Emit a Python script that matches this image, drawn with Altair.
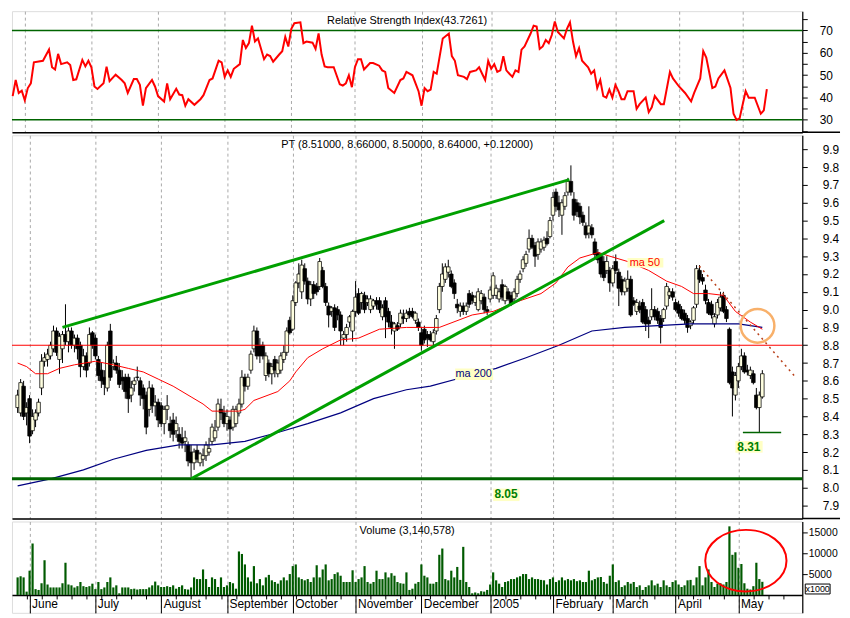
import altair as alt
import pandas as pd

# ------------------------------------------------------------------ data
month_labels = ["June", "July", "August", "September", "October", "November",
                "December", "2005", "February", "March", "April", "May"]

o = [8.45,8.42,8.57,8.42,8.50,8.32,8.38,8.42,8.56,8.71,
     8.72,8.74,8.78,8.88,8.72,8.78,8.86,8.82,8.88,8.80,
     8.84,8.80,8.68,8.74,8.70,8.87,8.84,8.72,8.66,8.62,
     8.56,8.88,8.68,8.70,8.66,8.62,8.62,8.62,8.52,8.58,
     8.62,8.60,8.56,8.52,8.44,8.56,8.46,8.48,8.46,8.36,
     8.44,8.36,8.38,8.32,8.30,8.28,8.26,8.24,8.20,8.14,
     8.21,8.14,8.16,8.18,8.20,8.26,8.28,8.34,8.44,8.42,
     8.36,8.38,8.34,8.36,8.42,8.47,8.62,8.57,8.66,8.78,
     8.88,8.80,8.80,8.63,8.70,8.64,8.72,8.64,8.66,8.72,
     8.76,8.94,8.89,9.04,9.15,9.10,9.23,9.16,9.06,9.14,
     9.13,9.13,9.22,9.13,9.02,8.99,9.01,9.00,8.97,8.84,
     8.86,8.93,8.88,8.99,9.09,9.04,9.08,9.04,9.00,9.02,
     9.05,9.05,8.96,9.05,8.99,8.93,8.88,8.91,8.92,8.96,
     8.95,8.99,8.99,8.94,8.93,8.87,8.89,8.86,8.86,8.82,
     8.88,9.00,9.13,9.17,9.21,9.20,9.15,9.03,8.99,9.02,
     8.99,9.09,9.08,9.04,9.00,9.05,9.07,9.00,9.06,9.08,
     9.08,9.06,9.14,9.05,9.10,9.08,9.06,9.09,9.17,9.23,
     9.26,9.34,9.40,9.36,9.31,9.34,9.35,9.40,9.41,9.53,
     9.66,9.60,9.53,9.58,9.66,9.72,9.62,9.60,9.58,9.53,
     9.47,9.43,9.46,9.38,9.32,9.30,9.27,9.22,9.22,9.15,
     9.27,9.21,9.17,9.10,9.12,9.17,9.05,8.99,9.02,9.04,
     9.00,8.94,8.96,9.00,8.99,8.95,8.95,9.02,9.08,9.10,
     9.04,9.03,9.00,8.98,8.95,8.91,8.94,9.03,9.22,9.18,
     9.11,9.04,9.03,8.92,8.97,9.01,9.08,9.00,8.89,8.65,
     8.52,8.60,8.68,8.74,8.66,8.63,8.64,8.52,8.45,8.51]

h = [8.55,8.61,8.60,8.48,8.52,8.44,8.44,8.50,8.75,8.76,
     8.78,8.82,8.91,8.90,8.87,8.88,9.03,8.90,8.90,8.86,
     8.86,8.82,8.78,8.76,8.90,8.88,8.86,8.74,8.70,8.66,
     8.82,8.92,8.72,8.74,8.70,8.66,8.64,8.64,8.60,8.62,
     8.68,8.62,8.58,8.54,8.60,8.58,8.52,8.50,8.48,8.46,
     8.52,8.40,8.42,8.40,8.34,8.34,8.32,8.26,8.24,8.22,
     8.24,8.20,8.22,8.26,8.28,8.36,8.38,8.50,8.50,8.46,
     8.44,8.40,8.46,8.46,8.50,8.66,8.64,8.64,8.77,8.91,
     8.90,8.84,8.82,8.76,8.72,8.70,8.74,8.72,8.76,8.80,
     8.90,8.96,9.08,9.16,9.26,9.28,9.26,9.18,9.16,9.16,
     9.15,9.29,9.24,9.15,9.04,9.02,9.03,9.02,8.99,8.88,
     8.92,8.97,9.00,9.16,9.12,9.10,9.10,9.08,9.08,9.06,
     9.07,9.07,9.03,9.07,9.01,8.97,8.93,8.93,9.00,9.00,
     9.00,9.01,9.01,8.99,8.95,8.90,8.91,8.88,8.88,8.89,
     8.97,9.15,9.26,9.26,9.28,9.22,9.17,9.06,9.04,9.04,
     9.04,9.11,9.10,9.08,9.12,9.11,9.09,9.02,9.13,9.21,
     9.14,9.12,9.17,9.14,9.12,9.10,9.12,9.19,9.22,9.30,
     9.33,9.45,9.42,9.38,9.40,9.40,9.41,9.44,9.52,9.66,
     9.68,9.64,9.62,9.66,9.74,9.81,9.66,9.62,9.60,9.55,
     9.49,9.58,9.48,9.40,9.34,9.32,9.30,9.30,9.24,9.25,
     9.31,9.23,9.19,9.18,9.22,9.19,9.07,9.06,9.05,9.06,
     9.02,8.96,9.12,9.02,9.01,8.97,9.01,9.15,9.12,9.12,
     9.06,9.05,9.02,9.00,8.97,8.94,9.02,9.25,9.25,9.20,
     9.14,9.06,9.05,8.98,9.06,9.10,9.10,9.02,8.90,8.68,
     8.65,8.70,8.78,8.76,8.69,8.68,8.66,8.56,8.54,8.66]

l = [8.42,8.40,8.38,8.35,8.25,8.30,8.34,8.40,8.52,8.68,
     8.68,8.72,8.76,8.74,8.64,8.70,8.80,8.76,8.78,8.76,
     8.72,8.62,8.66,8.62,8.68,8.78,8.72,8.60,8.56,8.52,
     8.54,8.60,8.66,8.64,8.56,8.55,8.50,8.42,8.48,8.54,
     8.60,8.46,8.44,8.30,8.40,8.42,8.40,8.34,8.34,8.30,
     8.38,8.28,8.26,8.28,8.22,8.22,8.20,8.12,8.06,8.10,
     8.14,8.12,8.12,8.15,8.18,8.24,8.26,8.32,8.38,8.34,
     8.32,8.24,8.32,8.34,8.40,8.45,8.54,8.55,8.64,8.76,
     8.72,8.70,8.72,8.60,8.62,8.58,8.62,8.62,8.64,8.70,
     8.74,8.86,8.88,9.02,9.12,9.06,9.14,9.03,9.02,9.06,
     9.08,9.11,9.12,9.02,8.90,8.96,8.88,8.94,8.80,8.80,
     8.82,8.90,8.82,8.96,8.97,9.00,8.98,9.02,8.98,9.00,
     9.00,8.98,8.94,8.84,8.90,8.86,8.78,8.88,8.90,8.92,
     8.93,8.95,8.95,8.92,8.88,8.77,8.81,8.79,8.82,8.80,
     8.86,8.98,9.10,9.15,9.18,9.12,9.06,8.98,8.96,8.97,
     8.97,9.01,9.03,9.02,8.99,9.03,8.98,8.97,9.04,9.06,
     9.06,9.04,9.05,9.03,9.05,9.02,9.04,9.07,9.15,9.21,
     9.24,9.32,9.34,9.24,9.28,9.32,9.33,9.36,9.40,9.50,
     9.55,9.52,9.42,9.56,9.64,9.64,9.50,9.52,9.48,9.47,
     9.40,9.40,9.40,9.29,9.26,9.18,9.16,9.20,9.10,9.13,
     9.20,9.02,9.08,9.08,9.10,8.96,9.02,8.97,8.98,8.92,
     8.88,8.84,8.94,8.94,8.92,8.81,8.93,9.00,9.06,9.05,
     8.99,8.96,8.94,8.92,8.87,8.89,8.92,9.01,9.15,9.14,
     9.03,8.97,8.95,8.90,8.95,8.99,8.98,8.93,8.58,8.40,
     8.49,8.56,8.66,8.64,8.63,8.61,8.58,8.44,8.31,8.50]

c = [8.52,8.59,8.40,8.45,8.29,8.40,8.42,8.48,8.71,8.73,
     8.75,8.80,8.88,8.76,8.85,8.86,8.82,8.88,8.80,8.84,
     8.78,8.68,8.74,8.66,8.86,8.80,8.74,8.63,8.60,8.58,
     8.80,8.62,8.70,8.66,8.58,8.60,8.54,8.50,8.56,8.60,
     8.62,8.52,8.50,8.34,8.56,8.46,8.48,8.38,8.36,8.44,
     8.46,8.32,8.30,8.36,8.26,8.25,8.28,8.15,8.14,8.20,
     8.16,8.19,8.18,8.24,8.22,8.34,8.32,8.47,8.42,8.36,
     8.40,8.33,8.44,8.44,8.47,8.62,8.57,8.62,8.75,8.88,
     8.74,8.74,8.74,8.74,8.64,8.68,8.66,8.70,8.74,8.76,
     8.88,8.87,9.05,9.15,9.20,9.25,9.16,9.06,9.14,9.09,
     9.10,9.27,9.13,9.04,8.97,9.01,8.90,8.97,8.88,8.86,
     8.90,8.96,8.99,9.07,8.98,9.09,9.00,9.06,9.06,9.05,
     9.03,9.00,9.01,8.96,8.93,8.90,8.92,8.89,8.98,8.95,
     8.98,8.97,8.96,8.98,8.90,8.80,8.83,8.84,8.83,8.87,
     8.95,9.13,9.20,9.24,9.24,9.13,9.09,9.01,9.02,8.99,
     9.02,9.03,9.05,9.07,9.10,9.09,9.00,8.99,9.11,9.19,
     9.12,9.10,9.07,9.13,9.06,9.03,9.10,9.17,9.20,9.28,
     9.31,9.40,9.35,9.30,9.38,9.38,9.39,9.37,9.50,9.63,
     9.58,9.56,9.60,9.64,9.72,9.66,9.53,9.55,9.52,9.49,
     9.42,9.47,9.42,9.31,9.28,9.20,9.18,9.27,9.15,9.23,
     9.22,9.12,9.10,9.16,9.17,8.97,9.03,9.04,9.00,8.93,
     8.92,8.92,9.00,8.96,8.94,8.90,9.00,9.13,9.10,9.07,
     9.00,8.98,8.95,8.94,8.90,8.93,9.01,9.23,9.17,9.16,
     9.05,8.98,8.97,8.96,9.04,9.07,8.99,8.95,8.59,8.56,
     8.63,8.68,8.74,8.65,8.65,8.66,8.59,8.45,8.52,8.64]

# volume in thousands of shares (axis unit "x1000")
vol = [4200,4500,4200,800,5800,12300,1400,1200,2800,8300,
       2500,1800,1800,1800,1800,2800,7700,2500,2300,1800,
       2100,3100,2100,1900,2100,2700,1400,3100,1400,1800,
       3100,4200,1800,2300,400,1800,1800,1800,1400,1500,
       1300,1400,1400,1400,1800,2300,3200,2300,1900,1900,
       2100,1900,2300,1500,1900,2300,1400,1300,1800,4200,
       3800,3800,6100,3800,1900,4200,3800,1900,4200,1900,
       2300,3100,2800,1500,10400,9800,7300,4200,3200,6900,
       2800,3800,2300,4200,4800,3500,3100,2700,3500,4200,
       3500,5000,6900,7300,4200,3800,3500,3800,3100,4200,
       7100,4200,6100,7300,3500,3800,5000,5400,4600,3100,
       3100,3100,5900,3100,3800,4200,6900,3100,2700,3100,
       5800,3800,3800,5400,4200,5200,4600,3100,2800,2700,
       5400,1200,1500,2700,3100,7300,4600,4200,2700,2700,
       3100,9600,11100,3800,3500,5800,4200,6700,3600,11500,
       3100,1900,400,600,400,900,800,1200,2500,5400,
       3500,2700,1900,3100,3300,3800,3800,4200,4500,5000,
       5000,3800,4200,3800,3800,3600,3500,2500,3800,4200,
       3100,3500,4200,3500,3800,3500,3800,3300,3500,3100,
       3100,5800,3500,3800,4200,4300,3100,2700,4600,7300,
       3100,3500,1900,2300,3100,2700,3100,1900,2300,1200,
       1900,2300,3500,2300,2700,1900,3500,2300,1900,3100,
       3500,2500,1900,2300,3500,3600,2300,4200,6900,2300,
       4200,6100,3100,1900,2700,2800,2500,3100,16400,9600,
       10200,6500,7400,2800,1500,1300,2100,7700,3800,3141]

rsi_i = [0,1,2,3,4,5,6,7,10,12,13,14,15,16,18,19,20,21,23,24,25,26,27,28,30,31,32,34,
         36,37,38,40,41,42,43,44,46,47,48,50,51,52,54,55,56,57,58,60,62,63,65,66,68,69,
         70,71,72,73,75,76,77,78,79,80,81,83,84,85,86,88,89,90,91,92,93,95,96,97,99,100,
         101,102,103,104,106,108,109,110,111,112,113,114,115,116,118,119,121,122,123,124,
         126,128,129,130,132,134,135,136,137,138,139,140,142,144,145,146,147,149,150,151,
         153,154,155,156,157,158,159,160,161,162,163,164,165,166,167,168,169,171,172,173,
         174,175,176,177,178,179,180,182,183,184,185,186,187,188,190,191,192,193,194,195,
         196,197,198,199,200,201,202,203,205,206,207,209,210,211,212,214,215,217,218,220,
         222,224,225,227,228,229,231,232,233,235,237,238,239,240,242,243,245,247,248,249]
rsi_v = [40.6,47.8,42.0,43.0,38.7,44.2,46.3,55.7,56.4,61.4,53.5,52.5,59.5,54.9,55.7,54.5,47.8,48.1,
         56.8,53.9,56.4,53.5,44.9,43.8,46.3,53.8,47.3,50.2,
         47.8,46.3,42.0,48.2,48.2,45.6,36.3,44.2,47.8,44.9,40.6,38.2,46.3,39.2,43.9,41.3,41.0,36.3,
         39.2,36.7,39.2,41.0,47.8,48.5,56.4,55.7,
         49.2,52.1,49.2,52.8,54.9,65.7,62.1,64.3,72.1,65.0,66.4,57.1,59.2,58.5,56.0,59.2,60.7,67.1,
         62.8,70.7,73.2,73.6,64.3,65.0,64.5,61.7,
         68.6,59.2,53.9,53.5,53.5,45.9,45.3,46.3,49.9,44.6,53.5,57.1,57.1,52.5,55.4,55.4,54.2,52.1,
         51.4,44.2,
         42.0,47.8,48.5,51.4,49.9,42.8,36.3,44.2,42.8,43.5,51.4,50.6,66.4,68.6,58.5,56.4,49.9,49.2,
         48.2,51.4,
         52.1,53.5,50.6,47.8,56.4,52.8,54.9,51.4,52.1,58.5,52.1,50.6,49.2,52.1,51.4,61.4,62.8,68.6,
         72.1,71.7,
         61.7,62.8,65.7,64.3,67.9,74.0,69.3,66.4,70.7,73.6,65.0,58.5,62.1,56.4,53.5,50.6,52.1,44.2,
         47.8,40.6,
         39.9,43.5,39.9,45.6,42.8,39.2,39.2,42.8,42.8,34.9,37.0,39.9,33.4,35.6,40.6,37.0,37.0,51.4,
         48.5,44.9,
         42.0,38.2,42.0,48.5,60.7,57.8,44.2,44.9,48.5,52.1,44.2,32.7,29.9,30.6,42.8,39.9,39.9,32.7,
         34.2,43.7]

ma50_i = [0,3,6,10,14,19,26,32,37,42,47,52,58,62,65,74,76,79,87,91,93,97,102,108,114,121,130,
          141,152,159,168,175,180,184,188,194,204,211,217,222,226,231,236,240,245,249]
ma50_v = [8.70,8.68,8.64,8.64,8.67,8.69,8.71,8.69,8.67,8.65,8.61,8.57,8.51,8.47,8.43,8.43,8.44,
          8.49,8.54,8.60,8.65,8.73,8.78,8.83,8.84,8.89,8.90,8.90,8.97,8.99,9.05,9.09,9.15,9.24,
          9.29,9.32,9.27,9.22,9.16,9.13,9.09,9.09,9.08,8.99,8.93,8.89]
ma200_i = [0,11,22,32,43,54,65,76,87,97,108,119,130,138,149,160,170,181,192,203,214,225,235,241,249]
ma200_v = [8.01,8.05,8.10,8.16,8.21,8.24,8.24,8.26,8.31,8.36,8.42,8.50,8.55,8.57,8.62,8.67,8.73,
           8.80,8.88,8.90,8.91,8.92,8.92,8.92,8.90]

rsi_levels = [70, 30]
upper_i, upper_p = [15, 184.5], [8.90, 9.73]
lower_i, lower_p = [58, 216.2], [8.05, 9.50]
down_i, down_p = [227.9, 260.1], [9.245, 8.62]
support_level, resist_level = 8.05, 8.80
low_i, low_level = [242.5, 255.3], 8.31
circle_i, circle_p = [247.4], [8.909]
ellipse_i, ellipse_v = [243.5], [8200]
num_text, num_i, num_p = ["8.05", "8.31"], [163.3, 244.5], [7.963, 8.229]
ma_text, ma_i, ma_p, ma_col = ["ma 50", "ma 200"], [209.7, 152.5], [9.262, 8.637], ["red", "#000080"]
# label boxes behind the annotation texts (ma 50, ma 200, 8.05, 8.31)
box_i0, box_i1 = [203.9, 146.3, 159.0, 240.0], [215.9, 159.0, 167.8, 249.1]
box_p0, box_p1 = [9.290, 8.670, 7.995, 8.262], [9.236, 8.605, 7.925, 8.197]
titles = ["Relative Strength Index(43.7261)",
          "PT (8.51000, 8.66000, 8.50000, 8.64000, +0.12000)",
          "Volume (3,140,578)"]

# ------------------------------------------------------------------ layout
W, H1, H2, H3, HL = 796, 122, 386, 74, 18
AXW = 38
BG = "#FFFFE0"
BOX = "#FFFFC4"
FONT = "Liberation Sans"

days = pd.bdate_range("2004-05-26", "2005-05-31")
days = days.drop(pd.to_datetime(["2005-03-25", "2005-03-28"]))
month_idx = [k for k in range(1, 250) if days[k].month != days[k - 1].month]
mondays = [k for k, d in enumerate(days) if d.weekday() == 0 and k <= 260]
tick_vals = sorted(set(month_idx) | set(mondays))
mtest = f"indexof({month_idx}, datum.value) >= 0"
names_js = "[" + ",".join(f"'{m}'" for m in month_labels) + "]"
label_expr = f"indexof({month_idx}, datum.value) >= 0 ? {names_js}[indexof({month_idx}, datum.value)] : ''"

xs = alt.Scale(domain=[-0.23, 260.7], nice=False, zero=False)
grid_axis = alt.Axis(values=month_idx, grid=True, gridDash=[3, 3], gridColor="#A8A8A8",
                     labels=False, ticks=False, domain=True, domainColor="black",
                     domainWidth=1.5, title=None)


def X(field="i", axis=grid_axis):
    return alt.X(f"{field}:Q", scale=xs, axis=axis, title=None)


def yaxis(values, pad, size=12, **kw):
    return alt.Axis(orient="right", values=values, tickSize=5, tickColor="black",
                    domainColor="black", domainWidth=1.2, labelPadding=pad, grid=False,
                    title=None, labelFontSize=size, labelColor="black", labelFont=FONT,
                    minExtent=AXW, maxExtent=AXW, **kw)


dummy = pd.DataFrame({"a": [0]})


def title_mark(t):
    return alt.Chart(dummy).mark_text(text=t, font=FONT, fontSize=11, color="black",
                                      baseline="top", align="center").encode(
        x=alt.value(W / 2), y=alt.value(4))


def sep(hgt):
    return alt.Chart(dummy).mark_rule(color="black", strokeWidth=1.5).encode(
        x=alt.value(W), x2=alt.value(W + AXW), y=alt.value(hgt))


# ---- RSI panel
rsi_scale = alt.Scale(domain=[24.4, 78.6], nice=False, zero=False)
rsi_ax = yaxis(list(range(25, 80, 5)), 12,
               labelExpr="datum.value % 10 == 0 ? datum.value : ''")


def Yr(f):
    return alt.Y(f"{f}:Q", scale=rsi_scale, axis=rsi_ax, title=None)


rsi_df = pd.DataFrame({"i": rsi_i, "v": rsi_v})
rsi_chart = alt.layer(
    alt.Chart(pd.DataFrame({"v": rsi_levels})).mark_rule(color="#006400", strokeWidth=1.5)
    .encode(y=Yr("v")),
    alt.Chart(rsi_df).mark_line(color="#FF0000", strokeWidth=2).encode(x=X(), y=Yr("v")),
    sep(H1),
    title_mark(titles[0]),
).properties(width=W, height=H1)

# ---- price panel
px_scale = alt.Scale(domain=[7.827, 9.979], nice=False, zero=False)
px_ax = yaxis([round(7.9 + 0.1 * k, 1) for k in range(21)], 15, format=".1f")


def Yp(f):
    return alt.Y(f"{f}:Q", scale=px_scale, axis=px_ax, title=None)


cdf = pd.DataFrame({"i": list(range(len(c))), "o": o, "h": h, "l": l, "c": c})
trend_df = pd.DataFrame({"i": upper_i + lower_i, "p": upper_p + lower_p,
                         "g": ["u", "u", "l", "l"]})
box_df = pd.DataFrame({"i": box_i0, "i2": box_i1, "p": box_p0, "p2": box_p1})
px_chart = alt.layer(
    alt.Chart(cdf).mark_rule(color="black", strokeWidth=1).encode(x=X(), y=Yp("l"), y2="h:Q"),
    alt.Chart(cdf).mark_bar(size=3.6, stroke="black", strokeWidth=0.75).encode(
        x=X(), y=Yp("o"), y2="c:Q",
        fill=alt.condition("datum.c >= datum.o", alt.value(BG), alt.value("black"))),
    alt.Chart(pd.DataFrame({"i": ma200_i, "p": ma200_v})).mark_line(color="#000080", strokeWidth=1.2)
    .encode(x=X(), y=Yp("p")),
    alt.Chart(pd.DataFrame({"i": ma50_i, "p": ma50_v})).mark_line(color="#FF0000", strokeWidth=1)
    .encode(x=X(), y=Yp("p")),
    alt.Chart(pd.DataFrame({"p": [resist_level]})).mark_rule(color="#FF0000", strokeWidth=1.2)
    .encode(y=Yp("p")),
    alt.Chart(pd.DataFrame({"p": [support_level]})).mark_rule(color="#006400", strokeWidth=3)
    .encode(y=Yp("p")),
    alt.Chart(trend_df).mark_line(color="#00A000", strokeWidth=3)
    .encode(x=X(), y=Yp("p"), detail="g:N"),
    alt.Chart(pd.DataFrame({"i": down_i, "p": down_p})).mark_line(
        color="#B8401A", strokeWidth=1.5, strokeDash=[2, 4]).encode(x=X(), y=Yp("p")),
    alt.Chart(pd.DataFrame({"i": [low_i[0]], "i2": [low_i[1]], "p": [low_level]}))
    .mark_rule(color="#006400", strokeWidth=1.5).encode(x=X(), x2="i2:Q", y=Yp("p")),
    alt.Chart(pd.DataFrame({"i": circle_i, "p": circle_p})).mark_point(
        shape="circle", size=1150, filled=False, color="#F8B06A", strokeWidth=2.5, opacity=1)
    .encode(x=X(), y=Yp("p")),
    alt.Chart(box_df).mark_rect(fill=BOX).encode(x=X(), x2="i2:Q", y=Yp("p"), y2="p2:Q"),
    alt.Chart(pd.DataFrame({"i": num_i, "p": num_p, "t": num_text})).mark_text(
        font=FONT, fontSize=12, fontWeight="bold", color="#008000")
    .encode(x=X(), y=Yp("p"), text="t:N"),
    alt.Chart(pd.DataFrame({"i": ma_i, "p": ma_p, "t": ma_text, "col": ma_col})).mark_text(
        font=FONT, fontSize=11).encode(x=X(), y=Yp("p"), text="t:N",
                                       color=alt.Color("col:N", scale=None)),
    sep(H2),
    title_mark(titles[1]),
).properties(width=W, height=H2)

# ---- volume panel
vtop = 17560
vol_scale = alt.Scale(domain=[-vtop * HL / H3, vtop], nice=False, zero=False)
vol_ax = yaxis([5000, 10000, 15000], 1, size=10.5, format="d")
vol_x_axis = alt.Axis(
    values=tick_vals, grid=True, gridDash=[3, 3], gridColor="#A8A8A8",
    gridOpacity={"condition": {"test": mtest, "value": 1}, "value": 0},
    tickSize={"condition": {"test": mtest, "value": HL}, "value": 4},
    tickColor="black", labelExpr=label_expr, labelAlign="left", labelOffset=2,
    labelPadding=-14, labelFontSize=12, labelFont=FONT, labelColor="black",
    offset=-HL, domainColor="black", domainWidth=1.5, labelOverlap=False,
    labelFlush=False, labelBound=False, title=None)


def Yv(f):
    return alt.Y(f"{f}:Q", scale=vol_scale, axis=vol_ax, title=None)


vdf = pd.DataFrame({"i": list(range(len(vol))), "v": vol})
ellipse = "M -1.32 0 A 1.32 1 0 1 1 1.32 0 A 1.32 1 0 1 1 -1.32 0 Z"
vol_chart = alt.layer(
    alt.Chart(vdf).mark_bar(size=2.2, color="#005A00").encode(
        x=X(axis=vol_x_axis), y=Yv("v"), y2=alt.datum(0)),
    alt.Chart(pd.DataFrame({"i": ellipse_i, "v": ellipse_v})).mark_point(
        shape=ellipse, size=3844, filled=False, color="#FF0000", strokeWidth=2, opacity=1)
    .encode(x=X(axis=vol_x_axis), y=Yv("v")),
    alt.Chart(dummy).mark_rect(fill="white", stroke="black", strokeWidth=1)
    .encode(x=alt.value(W + 3), x2=alt.value(W + 28), y=alt.value(H3 - 11), y2=alt.value(H3 - 1)),
    alt.Chart(dummy).mark_text(text="x1000", font=FONT, fontSize=9, color="black")
    .encode(x=alt.value(W + 15.5), y=alt.value(H3 - 6)),
    title_mark(titles[2]),
).properties(width=W, height=H3 + HL)

chart = alt.vconcat(rsi_chart, px_chart, vol_chart, spacing=0).properties(
    padding={"left": 0, "top": 0, "right": 0, "bottom": 0}
).configure_view(stroke=None, fill=BG).configure(background="white", font=FONT)

chart.save("out.html", embed_options={"renderer": "svg", "actions": False})
